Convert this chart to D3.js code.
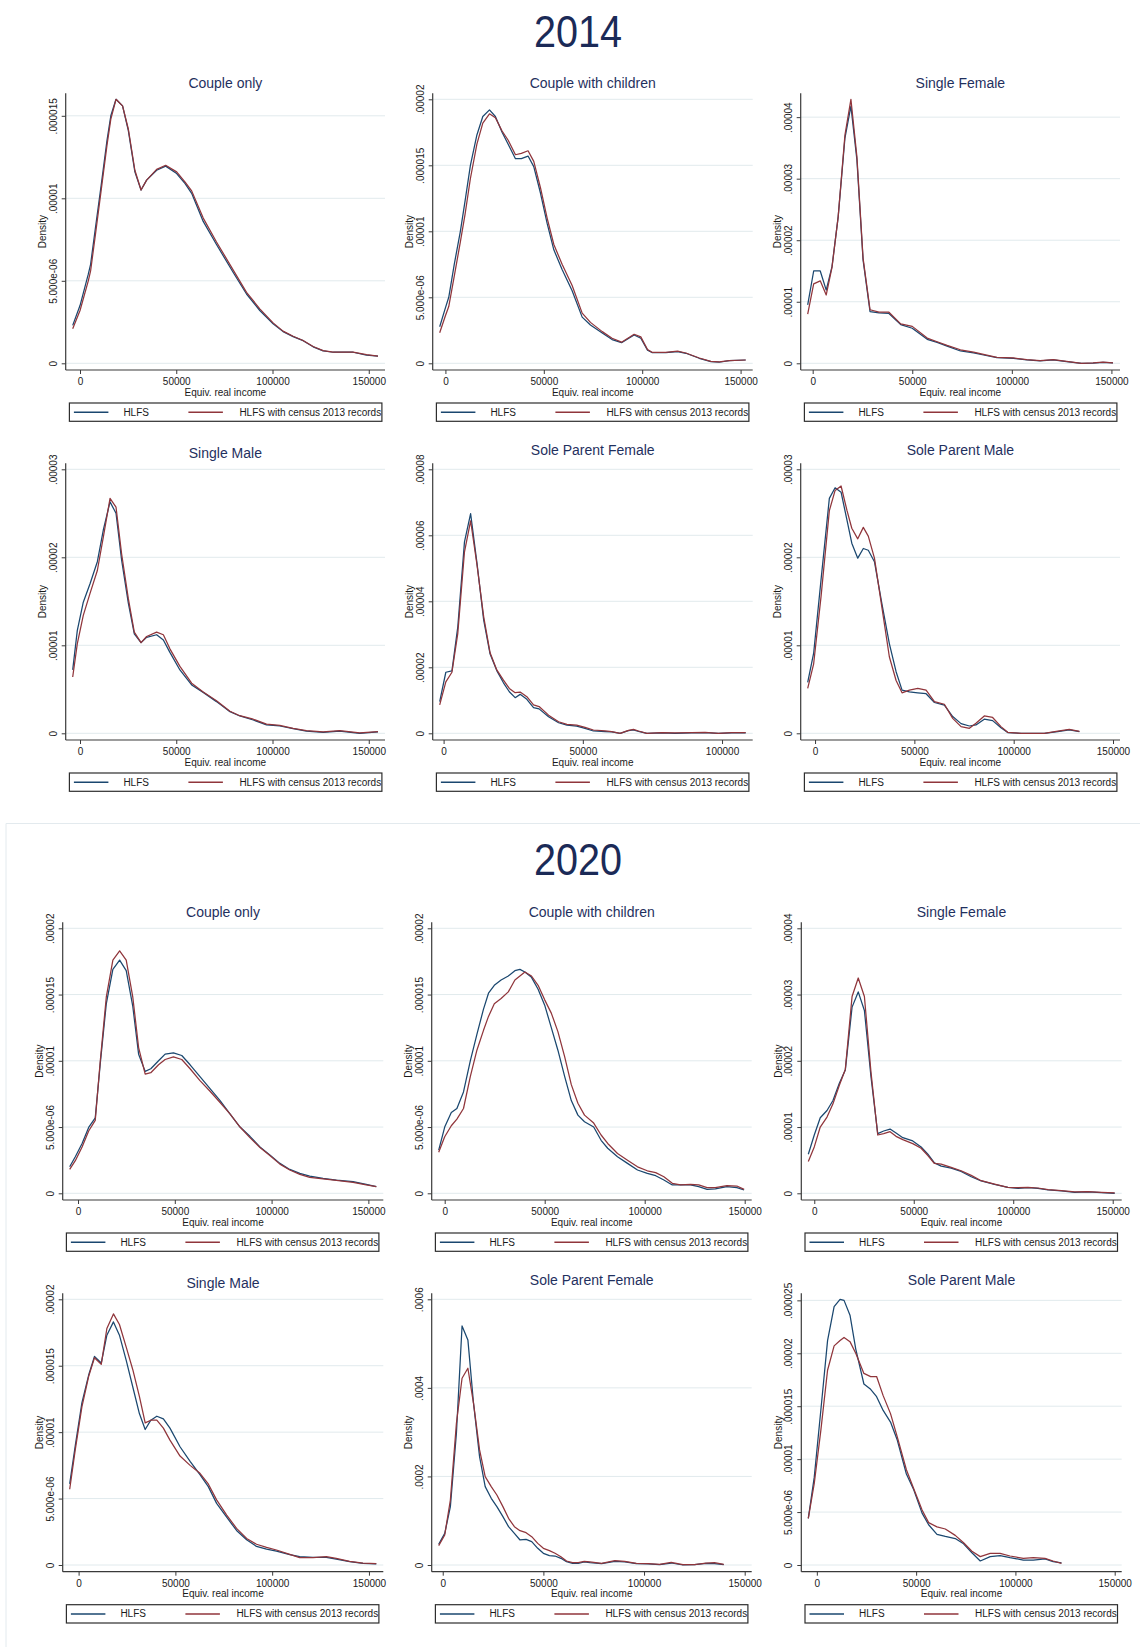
<!DOCTYPE html>
<html>
<head>
<meta charset="utf-8">
<title>Equivalised real income densities by household type, 2014 and 2020</title>
<script src="https://cdn.jsdelivr.net/npm/d3@7"></script>
<style>
  html, body { margin: 0; padding: 0; background: #ffffff; }
  svg { display: block; }
  text { font-family: "Liberation Sans", Arial, Helvetica, sans-serif; }
</style>
</head>
<body>
<svg id="chart" width="1140" height="1647"></svg>
<script>
// Kernel density estimates of equivalised real income by household type.
// Each panel has an income grid and two density series:
// HLFS alone, and HLFS with census 2013 records.

// ---------- 2014 ----------
const coupleOnly2014Income = [-3800, 0, 4300, 5500, 8000, 11000, 14000, 16000, 18700, 22100, 25100, 28500, 31700, 34600, 39800, 44500, 50200, 54500, 58000, 64000, 70900, 79600, 86500, 93400, 100300, 105500, 110700, 115900, 121100, 126300, 131500, 141900, 148800, 154800];
const coupleOnly2014Hlfs = [2.3e-6, 3.5e-6, 5.4e-6, 6.0e-6, 8.2e-6, 10.8e-6, 13.5e-6, 15.0e-6, 16.0e-6, 15.6e-6, 14.1e-6, 11.6e-6, 10.5e-6, 11.1e-6, 11.7e-6, 11.95e-6, 11.5e-6, 10.9e-6, 10.3e-6, 8.6e-6, 7.2e-6, 5.5e-6, 4.2e-6, 3.2e-6, 2.4e-6, 1.92e-6, 1.62e-6, 1.37e-6, 1.0e-6, 0.75e-6, 0.67e-6, 0.67e-6, 0.5e-6, 0.44e-6];
const coupleOnly2014Census = [2.1e-6, 3.2e-6, 5.0e-6, 5.6e-6, 7.8e-6, 10.5e-6, 13.2e-6, 14.8e-6, 16.0e-6, 15.6e-6, 14.2e-6, 11.7e-6, 10.5e-6, 11.1e-6, 11.75e-6, 12.0e-6, 11.6e-6, 11.0e-6, 10.45e-6, 8.8e-6, 7.35e-6, 5.65e-6, 4.3e-6, 3.3e-6, 2.45e-6, 1.95e-6, 1.64e-6, 1.38e-6, 1.02e-6, 0.77e-6, 0.68e-6, 0.68e-6, 0.52e-6, 0.44e-6];

const coupleKids2014Income = [-2900, 0, 1700, 4500, 7600, 10000, 12700, 16000, 19000, 22400, 25400, 28800, 31900, 35600, 38600, 42000, 44900, 48300, 51700, 55100, 59300, 64400, 69500, 73700, 79700, 84700, 89500, 95900, 99300, 102700, 105200, 112000, 118000, 122200, 129000, 134900, 139100, 144200, 152600];
const coupleKids2014Hlfs = [2.77e-6, 4.2e-6, 5.0e-6, 7.5e-6, 10.0e-6, 12.3e-6, 15.0e-6, 17.3e-6, 18.7e-6, 19.2e-6, 18.7e-6, 17.5e-6, 16.6e-6, 15.5e-6, 15.5e-6, 15.7e-6, 14.9e-6, 12.9e-6, 10.6e-6, 8.6e-6, 7.1e-6, 5.5e-6, 3.5e-6, 2.9e-6, 2.3e-6, 1.8e-6, 1.56e-6, 2.14e-6, 1.9e-6, 1.0e-6, 0.8e-6, 0.8e-6, 0.88e-6, 0.76e-6, 0.38e-6, 0.13e-6, 0.08e-6, 0.2e-6, 0.25e-6];
const coupleKids2014Census = [2.32e-6, 3.6e-6, 4.3e-6, 6.6e-6, 9.2e-6, 11.3e-6, 14.0e-6, 16.6e-6, 18.2e-6, 18.9e-6, 18.6e-6, 17.6e-6, 16.9e-6, 15.8e-6, 15.9e-6, 16.1e-6, 15.3e-6, 13.3e-6, 11.0e-6, 9.0e-6, 7.5e-6, 5.9e-6, 3.8e-6, 3.1e-6, 2.4e-6, 1.9e-6, 1.6e-6, 2.2e-6, 2.0e-6, 1.05e-6, 0.82e-6, 0.82e-6, 0.92e-6, 0.78e-6, 0.4e-6, 0.15e-6, 0.1e-6, 0.2e-6, 0.25e-6];

const singleFemale2014Income = [-2500, 500, 3800, 6800, 9700, 12800, 16200, 19200, 22200, 25300, 28800, 33300, 38300, 44200, 50000, 57500, 62500, 67500, 74200, 80800, 85800, 92500, 100800, 107500, 114200, 120800, 127500, 135000, 140800, 145800, 150800];
const singleFemale2014Hlfs = [9.5e-6, 15.0e-6, 15.0e-6, 11.9e-6, 15.7e-6, 23.8e-6, 36.6e-6, 41.8e-6, 33.1e-6, 16.8e-6, 8.4e-6, 8.2e-6, 8.1e-6, 6.3e-6, 5.7e-6, 3.9e-6, 3.4e-6, 2.8e-6, 2.0e-6, 1.7e-6, 1.35e-6, 0.92e-6, 0.81e-6, 0.54e-6, 0.38e-6, 0.54e-6, 0.27e-6, 0, 0.03e-6, 0.16e-6, 0.05e-6];
const singleFemale2014Census = [8.0e-6, 12.9e-6, 13.4e-6, 11.1e-6, 15.6e-6, 23.8e-6, 37.1e-6, 42.9e-6, 33.6e-6, 17.1e-6, 8.7e-6, 8.3e-6, 8.3e-6, 6.4e-6, 6.0e-6, 4.1e-6, 3.5e-6, 2.9e-6, 2.2e-6, 1.8e-6, 1.45e-6, 0.98e-6, 0.87e-6, 0.6e-6, 0.43e-6, 0.6e-6, 0.3e-6, 0, 0.05e-6, 0.2e-6, 0.05e-6];

const singleMale2014Income = [-3800, -1400, 1700, 5200, 9000, 12100, 15600, 18700, 21600, 25100, 28200, 31700, 34600, 39800, 43300, 46700, 51900, 58000, 64000, 70900, 77900, 83000, 90000, 96900, 103800, 110700, 117600, 126300, 134900, 145300, 154800];
const singleMale2014Hlfs = [7.2e-6, 11.7e-6, 14.9e-6, 17.0e-6, 19.5e-6, 23.1e-6, 26.3e-6, 25.0e-6, 19.7e-6, 14.8e-6, 11.3e-6, 10.3e-6, 10.9e-6, 11.2e-6, 10.6e-6, 9.2e-6, 7.2e-6, 5.5e-6, 4.65e-6, 3.6e-6, 2.46e-6, 1.97e-6, 1.51e-6, 0.95e-6, 0.83e-6, 0.53e-6, 0.26e-6, 0.11e-6, 0.26e-6, 0, 0.15e-6];
const singleMale2014Census = [6.4e-6, 10.2e-6, 13.4e-6, 15.9e-6, 18.5e-6, 22.3e-6, 26.7e-6, 25.7e-6, 20.4e-6, 15.3e-6, 11.5e-6, 10.3e-6, 11.0e-6, 11.5e-6, 11.2e-6, 9.6e-6, 7.6e-6, 5.7e-6, 4.7e-6, 3.7e-6, 2.5e-6, 2.0e-6, 1.6e-6, 1.05e-6, 0.9e-6, 0.57e-6, 0.3e-6, 0.15e-6, 0.3e-6, 0.04e-6, 0.19e-6];

const soleFemale2014Income = [-1400, 800, 3000, 5100, 7500, 9700, 12000, 14400, 16700, 19100, 21500, 23600, 25700, 27500, 29900, 32300, 34300, 37700, 41300, 44300, 47800, 50800, 53800, 58000, 60400, 63400, 66400, 68200, 70000, 73000, 78300, 83100, 89100, 93900, 98700, 103500, 108500];
const soleFemale2014Hlfs = [9.6e-6, 18.5e-6, 18.9e-6, 32.3e-6, 58.0e-6, 66.6e-6, 51.5e-6, 34.3e-6, 24.0e-6, 19.0e-6, 15.3e-6, 12.6e-6, 10.8e-6, 11.8e-6, 10.3e-6, 7.8e-6, 7.4e-6, 5.0e-6, 3.2e-6, 2.5e-6, 2.2e-6, 1.5e-6, 0.7e-6, 0.5e-6, 0.4e-6, 0, 0.8e-6, 1.0e-6, 0.6e-6, 0, 0.1e-6, 0, 0.1e-6, 0.2e-6, 0, 0.1e-6, 0.1e-6];
const soleFemale2014Census = [8.6e-6, 15.6e-6, 18.5e-6, 30.3e-6, 55.0e-6, 64.4e-6, 51.0e-6, 35.3e-6, 24.4e-6, 19.2e-6, 16.1e-6, 13.6e-6, 12.3e-6, 12.5e-6, 11.1e-6, 8.6e-6, 8.1e-6, 5.5e-6, 3.5e-6, 2.7e-6, 2.5e-6, 1.8e-6, 1.0e-6, 0.7e-6, 0.5e-6, 0, 0.9e-6, 1.2e-6, 0.7e-6, 0, 0.2e-6, 0.1e-6, 0.2e-6, 0.3e-6, 0, 0.2e-6, 0.2e-6];

const soleMale2014Income = [-3700, -700, 3000, 7200, 10100, 13100, 16100, 18500, 21500, 24300, 26800, 29900, 33600, 37400, 40800, 43800, 47500, 51700, 55900, 60100, 65100, 69300, 73500, 77700, 81000, 85200, 89400, 93600, 97000, 103700, 115400, 122200, 128000, 133100];
const soleMale2014Hlfs = [5.8e-6, 9.1e-6, 17.4e-6, 26.7e-6, 27.9e-6, 27.4e-6, 24.2e-6, 21.6e-6, 19.9e-6, 21.0e-6, 20.8e-6, 19.5e-6, 14.8e-6, 10.2e-6, 7.0e-6, 4.9e-6, 4.7e-6, 4.6e-6, 4.5e-6, 3.5e-6, 3.2e-6, 1.9e-6, 1.1e-6, 0.83e-6, 0.95e-6, 1.6e-6, 1.44e-6, 0.64e-6, 0.08e-6, 0, 0, 0.19e-6, 0.38e-6, 0.19e-6];
const soleMale2014Census = [5.1e-6, 7.9e-6, 15.5e-6, 25.3e-6, 27.6e-6, 28.1e-6, 25.3e-6, 23.3e-6, 22.1e-6, 23.4e-6, 22.4e-6, 19.9e-6, 14.4e-6, 8.7e-6, 6.0e-6, 4.6e-6, 4.9e-6, 5.1e-6, 4.9e-6, 3.6e-6, 3.3e-6, 1.7e-6, 0.76e-6, 0.57e-6, 1.14e-6, 1.97e-6, 1.8e-6, 0.76e-6, 0.11e-6, 0, 0, 0.26e-6, 0.45e-6, 0.23e-6];

// ---------- 2020 ----------
const coupleOnly2020Income = [-4300, -1400, 2100, 5500, 8900, 11500, 14600, 18000, 21500, 24900, 28300, 31300, 34700, 37600, 41600, 45000, 49300, 53600, 57900, 63000, 68200, 73400, 78500, 83700, 88800, 94000, 99100, 104300, 109400, 114600, 119700, 126600, 133500, 142100, 148900, 154100];
const coupleOnly2020Hlfs = [2.0e-6, 2.76e-6, 3.76e-6, 4.97e-6, 5.7e-6, 9.8e-6, 14.3e-6, 16.9e-6, 17.6e-6, 16.8e-6, 14.1e-6, 10.5e-6, 9.2e-6, 9.4e-6, 10.0e-6, 10.5e-6, 10.6e-6, 10.4e-6, 9.7e-6, 8.8e-6, 7.9e-6, 7.0e-6, 6.0e-6, 5.0e-6, 4.3e-6, 3.5e-6, 2.9e-6, 2.26e-6, 1.8e-6, 1.5e-6, 1.3e-6, 1.13e-6, 1.0e-6, 0.88e-6, 0.68e-6, 0.5e-6];
const coupleOnly2020Census = [1.8e-6, 2.46e-6, 3.5e-6, 4.7e-6, 5.5e-6, 10.0e-6, 14.8e-6, 17.6e-6, 18.3e-6, 17.6e-6, 14.8e-6, 11.0e-6, 9.0e-6, 9.1e-6, 9.7e-6, 10.1e-6, 10.3e-6, 10.1e-6, 9.4e-6, 8.5e-6, 7.7e-6, 6.85e-6, 6.0e-6, 5.0e-6, 4.2e-6, 3.46e-6, 2.86e-6, 2.2e-6, 1.76e-6, 1.43e-6, 1.2e-6, 1.08e-6, 0.98e-6, 0.83e-6, 0.63e-6, 0.5e-6];

const coupleKids2020Income = [-3000, 0, 3300, 6100, 9400, 12800, 16100, 19400, 21900, 24800, 28200, 31800, 35100, 37600, 40100, 43400, 46700, 50000, 53300, 56600, 60000, 63300, 66600, 69900, 74500, 78200, 81500, 86400, 91400, 96400, 101300, 105500, 109600, 113800, 117900, 122900, 127000, 131200, 135300, 141100, 146100, 149700];
const coupleKids2020Hlfs = [3.26e-6, 5.0e-6, 6.1e-6, 6.4e-6, 7.65e-6, 10.0e-6, 12.0e-6, 13.9e-6, 15.1e-6, 15.7e-6, 16.1e-6, 16.4e-6, 16.8e-6, 16.9e-6, 16.7e-6, 16.3e-6, 15.4e-6, 14.2e-6, 12.5e-6, 10.8e-6, 8.8e-6, 7.0e-6, 5.9e-6, 5.4e-6, 5.0e-6, 4.0e-6, 3.4e-6, 2.76e-6, 2.26e-6, 1.76e-6, 1.5e-6, 1.33e-6, 1.0e-6, 0.63e-6, 0.63e-6, 0.63e-6, 0.5e-6, 0.3e-6, 0.33e-6, 0.5e-6, 0.43e-6, 0.25e-6];
const coupleKids2020Census = [3.1e-6, 4.27e-6, 5.1e-6, 5.6e-6, 6.4e-6, 8.8e-6, 10.8e-6, 12.3e-6, 13.35e-6, 14.3e-6, 14.7e-6, 15.2e-6, 16.1e-6, 16.4e-6, 16.7e-6, 16.4e-6, 15.7e-6, 14.6e-6, 13.6e-6, 12.2e-6, 10.3e-6, 8.2e-6, 6.8e-6, 5.9e-6, 5.3e-6, 4.4e-6, 3.76e-6, 3.0e-6, 2.5e-6, 2.0e-6, 1.7e-6, 1.56e-6, 1.25e-6, 0.75e-6, 0.63e-6, 0.68e-6, 0.63e-6, 0.43e-6, 0.43e-6, 0.58e-6, 0.55e-6, 0.3e-6];

const singleFemale2020Income = [-3000, 0, 3000, 6400, 9400, 12600, 15600, 19000, 22100, 25200, 28500, 31900, 34900, 38100, 41100, 44500, 49500, 53700, 57100, 60400, 63800, 68800, 73800, 78900, 83900, 90600, 97300, 102400, 107400, 112400, 117500, 124200, 130900, 137600, 144300, 151000];
const singleFemale2020Hlfs = [5.9e-6, 8.8e-6, 11.4e-6, 12.5e-6, 14.0e-6, 16.6e-6, 18.6e-6, 28.1e-6, 30.4e-6, 27.6e-6, 17.6e-6, 9.0e-6, 9.4e-6, 9.7e-6, 9.1e-6, 8.4e-6, 7.9e-6, 7.0e-6, 5.9e-6, 4.6e-6, 4.1e-6, 3.8e-6, 3.3e-6, 2.5e-6, 1.86e-6, 1.35e-6, 0.9e-6, 0.75e-6, 0.85e-6, 0.75e-6, 0.5e-6, 0.35e-6, 0.15e-6, 0.2e-6, 0.1e-6, 0];
const singleFemale2020Census = [4.8e-6, 7.0e-6, 10.0e-6, 11.5e-6, 13.5e-6, 16.3e-6, 18.7e-6, 29.7e-6, 32.5e-6, 29.7e-6, 18.3e-6, 8.8e-6, 9.0e-6, 9.3e-6, 8.6e-6, 8.1e-6, 7.5e-6, 6.8e-6, 5.7e-6, 4.5e-6, 4.4e-6, 3.9e-6, 3.4e-6, 2.7e-6, 1.9e-6, 1.4e-6, 0.9e-6, 0.85e-6, 0.9e-6, 0.8e-6, 0.55e-6, 0.4e-6, 0.2e-6, 0.25e-6, 0.15e-6, 0.05e-6];

const singleMale2020Income = [-4600, -1700, 1700, 5200, 8200, 11700, 14600, 18000, 21100, 24600, 28000, 31400, 34400, 37300, 40400, 43800, 47200, 52400, 57600, 62700, 67000, 71300, 76500, 81600, 86800, 91900, 97100, 102200, 109100, 114200, 121100, 128000, 133100, 140000, 146900, 153800];
const singleMale2020Hlfs = [6.1e-6, 9.0e-6, 12.2e-6, 14.3e-6, 15.7e-6, 15.2e-6, 17.3e-6, 18.3e-6, 17.3e-6, 15.4e-6, 13.4e-6, 11.4e-6, 10.2e-6, 10.9e-6, 11.2e-6, 11.0e-6, 10.3e-6, 8.9e-6, 7.8e-6, 6.8e-6, 5.9e-6, 4.64e-6, 3.6e-6, 2.6e-6, 1.9e-6, 1.4e-6, 1.2e-6, 1.05e-6, 0.78e-6, 0.63e-6, 0.58e-6, 0.58e-6, 0.45e-6, 0.25e-6, 0.13e-6, 0.08e-6];
const singleMale2020Census = [5.7e-6, 8.7e-6, 11.9e-6, 14.2e-6, 15.6e-6, 15.1e-6, 17.8e-6, 18.9e-6, 18.1e-6, 16.4e-6, 14.7e-6, 12.7e-6, 10.7e-6, 10.9e-6, 10.9e-6, 10.3e-6, 9.4e-6, 8.2e-6, 7.5e-6, 6.9e-6, 6.1e-6, 4.9e-6, 3.76e-6, 2.76e-6, 2.0e-6, 1.56e-6, 1.33e-6, 1.13e-6, 0.8e-6, 0.55e-6, 0.55e-6, 0.63e-6, 0.5e-6, 0.28e-6, 0.15e-6, 0.1e-6];

const soleFemale2020Income = [-2000, 1000, 3800, 6800, 9600, 12500, 15300, 18300, 21100, 24100, 26900, 29900, 32700, 35600, 38400, 41400, 44200, 47200, 50000, 53000, 55800, 58700, 61500, 64500, 67300, 70300, 73100, 78900, 85500, 90400, 96200, 102000, 107700, 113500, 119300, 125100, 130800, 135000, 139600];
const soleFemale2020Hlfs = [46.7e-6, 71.5e-6, 131.8e-6, 297.4e-6, 539.9e-6, 508.3e-6, 365.2e-6, 244.7e-6, 177.0e-6, 150.6e-6, 131.8e-6, 109.2e-6, 86.6e-6, 71.5e-6, 56.5e-6, 58.0e-6, 52.7e-6, 37.7e-6, 26.4e-6, 21.1e-6, 20.3e-6, 15.1e-6, 7.5e-6, 3.8e-6, 3.8e-6, 6.8e-6, 5.3e-6, 3.0e-6, 8.3e-6, 6.8e-6, 3.0e-6, 2.3e-6, 0.8e-6, 4.5e-6, 0, 0.8e-6, 3.8e-6, 3.0e-6, 0.8e-6];
const soleFemale2020Census = [43.7e-6, 67.8e-6, 146.8e-6, 320.0e-6, 421.7e-6, 444.3e-6, 365.2e-6, 259.8e-6, 199.5e-6, 177.0e-6, 158.1e-6, 131.8e-6, 105.4e-6, 86.6e-6, 77.6e-6, 73.0e-6, 64.0e-6, 48.9e-6, 37.7e-6, 32.4e-6, 26.4e-6, 18.8e-6, 9.0e-6, 5.3e-6, 5.3e-6, 8.3e-6, 6.8e-6, 3.8e-6, 9.8e-6, 8.3e-6, 3.8e-6, 3.0e-6, 1.5e-6, 6.0e-6, 0.8e-6, 0.8e-6, 4.5e-6, 5.3e-6, 1.5e-6];

const soleMale2020Income = [-4300, -1300, 2000, 5400, 8700, 11700, 13700, 16700, 19600, 23700, 27100, 30100, 33400, 37100, 40500, 45100, 48800, 53000, 56300, 60500, 64700, 69700, 73900, 78100, 82300, 87300, 92300, 97300, 104000, 109000, 114900, 119000, 123200];
const soleMale2020Hlfs = [4.4e-6, 8.3e-6, 14.6e-6, 21.2e-6, 24.4e-6, 25.1e-6, 25.0e-6, 23.6e-6, 20.4e-6, 17.1e-6, 16.6e-6, 15.9e-6, 14.6e-6, 13.5e-6, 11.8e-6, 8.6e-6, 7.1e-6, 4.9e-6, 3.8e-6, 2.9e-6, 2.7e-6, 2.5e-6, 2.0e-6, 1.16e-6, 0.38e-6, 0.79e-6, 0.88e-6, 0.69e-6, 0.47e-6, 0.47e-6, 0.57e-6, 0.31e-6, 0.19e-6];
const soleMale2020Census = [4.4e-6, 7.7e-6, 12.7e-6, 18.4e-6, 20.7e-6, 21.2e-6, 21.5e-6, 21.1e-6, 20.0e-6, 18.1e-6, 17.8e-6, 17.8e-6, 16.0e-6, 14.3e-6, 12.1e-6, 9.0e-6, 7.2e-6, 5.2e-6, 4.0e-6, 3.6e-6, 3.4e-6, 2.8e-6, 2.1e-6, 1.3e-6, 0.79e-6, 1.1e-6, 1.1e-6, 0.85e-6, 0.63e-6, 0.69e-6, 0.63e-6, 0.38e-6, 0.16e-6];

// ---------- labels and ticks ----------
const yearTitles = ["2014", "2020"];
const householdTypes = ["Couple only", "Couple with children", "Single Female", "Single Male", "Sole Parent Female", "Sole Parent Male"];
const seriesNames = ["HLFS", "HLFS with census 2013 records"];
const xAxisTitle = "Equiv. real income";
const yAxisTitle = "Density";

const incomeTicks = [0, 50000, 100000, 150000];
const incomeTicksShort = [0, 50000, 100000];

const densityTicksA = [0, 5e-6, 1e-5, 1.5e-5];
const densityLabelsA = ["0", "5.000e-06", ".00001", ".000015"];
const densityTicksB = [0, 5e-6, 1e-5, 1.5e-5, 2e-5];
const densityLabelsB = ["0", "5.000e-06", ".00001", ".000015", ".00002"];
const densityTicksC = [0, 1e-5, 2e-5, 3e-5, 4e-5];
const densityLabelsC = ["0", ".00001", ".00002", ".00003", ".00004"];
const densityTicksD = [0, 1e-5, 2e-5, 3e-5];
const densityLabelsD = ["0", ".00001", ".00002", ".00003"];
const densityTicksE = [0, 2e-5, 4e-5, 6e-5, 8e-5];
const densityLabelsE = ["0", ".00002", ".00004", ".00006", ".00008"];
const densityTicksF = [0, 2e-4, 4e-4, 6e-4];
const densityLabelsF = ["0", ".0002", ".0004", ".0006"];
const densityTicksG = [0, 5e-6, 1e-5, 1.5e-5, 2e-5, 2.5e-5];
const densityLabelsG = ["0", "5.000e-06", ".00001", ".000015", ".00002", ".000025"];

// ---------- page layout (plot frames per year block) ----------
const blocks = {
  "2014": { titleY: 47, top: [93.3, 463.3], bottom: [370, 740], left: [65.7, 432.7, 800.7], right: [385, 752.7, 1120] },
  "2020": { titleY: 875, top: [922.3, 1293.3], bottom: [1200, 1571.7], left: [62.7, 431.7, 801.3], right: [383.3, 751.7, 1121.7] }
};

const panels = [
  { year: "2014", row: 0, col: 0, type: 0, income: coupleOnly2014Income, hlfs: coupleOnly2014Hlfs, census: coupleOnly2014Census, yTicks: densityTicksA, yLabels: densityLabelsA, xTicks: incomeTicks },
  { year: "2014", row: 0, col: 1, type: 1, income: coupleKids2014Income, hlfs: coupleKids2014Hlfs, census: coupleKids2014Census, yTicks: densityTicksB, yLabels: densityLabelsB, xTicks: incomeTicks },
  { year: "2014", row: 0, col: 2, type: 2, income: singleFemale2014Income, hlfs: singleFemale2014Hlfs, census: singleFemale2014Census, yTicks: densityTicksC, yLabels: densityLabelsC, xTicks: incomeTicks },
  { year: "2014", row: 1, col: 0, type: 3, income: singleMale2014Income, hlfs: singleMale2014Hlfs, census: singleMale2014Census, yTicks: densityTicksD, yLabels: densityLabelsD, xTicks: incomeTicks },
  { year: "2014", row: 1, col: 1, type: 4, income: soleFemale2014Income, hlfs: soleFemale2014Hlfs, census: soleFemale2014Census, yTicks: densityTicksE, yLabels: densityLabelsE, xTicks: incomeTicksShort },
  { year: "2014", row: 1, col: 2, type: 5, income: soleMale2014Income, hlfs: soleMale2014Hlfs, census: soleMale2014Census, yTicks: densityTicksD, yLabels: densityLabelsD, xTicks: incomeTicks },
  { year: "2020", row: 0, col: 0, type: 0, income: coupleOnly2020Income, hlfs: coupleOnly2020Hlfs, census: coupleOnly2020Census, yTicks: densityTicksB, yLabels: densityLabelsB, xTicks: incomeTicks },
  { year: "2020", row: 0, col: 1, type: 1, income: coupleKids2020Income, hlfs: coupleKids2020Hlfs, census: coupleKids2020Census, yTicks: densityTicksB, yLabels: densityLabelsB, xTicks: incomeTicks },
  { year: "2020", row: 0, col: 2, type: 2, income: singleFemale2020Income, hlfs: singleFemale2020Hlfs, census: singleFemale2020Census, yTicks: densityTicksC, yLabels: densityLabelsC, xTicks: incomeTicks },
  { year: "2020", row: 1, col: 0, type: 3, income: singleMale2020Income, hlfs: singleMale2020Hlfs, census: singleMale2020Census, yTicks: densityTicksB, yLabels: densityLabelsB, xTicks: incomeTicks },
  { year: "2020", row: 1, col: 1, type: 4, income: soleFemale2020Income, hlfs: soleFemale2020Hlfs, census: soleFemale2020Census, yTicks: densityTicksF, yLabels: densityLabelsF, xTicks: incomeTicks },
  { year: "2020", row: 1, col: 2, type: 5, income: soleMale2020Income, hlfs: soleMale2020Hlfs, census: soleMale2020Census, yTicks: densityTicksG, yLabels: densityLabelsG, xTicks: incomeTicks }
];

// ---------- styles ----------
const hlfsColor = "#1a476f";
const censusColor = "#90353b";
const axisColor = "#3a3a3a";
const gridColor = "#e1eaed";
const textColor = "#1a1a1a";
const titleColor = "#1f305e";
const smallFont = 10;

const svg = d3.select("#chart");
svg.append("rect").attr("width", 1140).attr("height", 1647).attr("fill", "#ffffff");

// thin frame around the 2020 block
svg.append("path")
  .attr("d", "M6,1647 V823.5 H1140")
  .attr("fill", "none").attr("stroke", "#e3eaee").attr("stroke-width", 1);

// year headings
yearTitles.forEach(yr => {
  svg.append("text")
    .attr("x", 578).attr("y", blocks[yr].titleY)
    .attr("text-anchor", "middle")
    .attr("font-size", 44)
    .attr("textLength", 88).attr("lengthAdjust", "spacingAndGlyphs")
    .attr("fill", "#1b2a57")
    .text(yr);
});

panels.forEach(p => {
  const b = blocks[p.year];
  const top = b.top[p.row], bottom = b.bottom[p.row];
  const left = b.left[p.col], right = b.right[p.col];
  const cx = (left + right) / 2;

  const xMin = Math.min(p.income[0], p.xTicks[0]);
  const xMax = Math.max(p.income[p.income.length - 1], p.xTicks[p.xTicks.length - 1]);
  const x = d3.scaleLinear().domain([xMin, xMax]).range([left + 7, right - 7]);

  const yMax = Math.max(d3.max(p.yTicks), d3.max(p.hlfs), d3.max(p.census));
  const y = d3.scaleLinear().domain([0, yMax]).range([bottom - 6.7, top + 6]);

  const g = svg.append("g");

  // horizontal gridlines at the density ticks
  g.append("g").selectAll("line").data(p.yTicks).join("line")
    .attr("x1", left).attr("x2", right)
    .attr("y1", d => y(d)).attr("y2", d => y(d))
    .attr("stroke", gridColor).attr("stroke-width", 1);

  // y axis with vertical tick labels
  const gy = g.append("g").attr("transform", `translate(${left},0)`)
    .call(d3.axisLeft(y).tickValues(p.yTicks).tickFormat((d, i) => p.yLabels[i]).tickSize(4).tickSizeOuter(0));
  gy.attr("font-family", null).attr("font-size", null);
  gy.select(".domain").remove();
  gy.selectAll(".tick line").attr("stroke", axisColor).attr("stroke-width", 1);
  gy.selectAll(".tick text")
    .attr("transform", "rotate(-90)")
    .attr("x", 0).attr("y", -9).attr("dy", null)
    .attr("text-anchor", "middle")
    .attr("font-size", smallFont).attr("fill", textColor);

  // x axis
  const gx = g.append("g").attr("transform", `translate(0,${bottom})`)
    .call(d3.axisBottom(x).tickValues(p.xTicks).tickFormat(d3.format("d")).tickSize(4).tickSizeOuter(0));
  gx.attr("font-family", null).attr("font-size", null);
  gx.select(".domain").remove();
  gx.selectAll(".tick line").attr("stroke", axisColor).attr("stroke-width", 1);
  gx.selectAll(".tick text").attr("y", 15).attr("dy", null)
    .attr("font-size", smallFont).attr("fill", textColor);

  // axis lines spanning the full plot frame
  g.append("line").attr("x1", left).attr("x2", left).attr("y1", top).attr("y2", bottom)
    .attr("stroke", axisColor).attr("stroke-width", 1.2);
  g.append("line").attr("x1", left).attr("x2", right).attr("y1", bottom).attr("y2", bottom)
    .attr("stroke", axisColor).attr("stroke-width", 1.2);

  // density curves
  const line = d3.line().x((d, i) => x(p.income[i])).y(d => y(d));
  [[p.hlfs, hlfsColor], [p.census, censusColor]].forEach(([vals, col]) => {
    g.append("path").datum(vals)
      .attr("d", line)
      .attr("fill", "none").attr("stroke", col)
      .attr("stroke-width", 1.25).attr("stroke-linejoin", "round");
  });

  // panel title
  const isSoleParent = p.type >= 4;
  g.append("text")
    .attr("x", cx).attr("y", top - (isSoleParent ? 8 : 5.5))
    .attr("text-anchor", "middle").attr("font-size", 14).attr("fill", titleColor)
    .text(householdTypes[p.type]);

  // axis titles
  g.append("text")
    .attr("x", cx).attr("y", bottom + 25.5)
    .attr("text-anchor", "middle").attr("font-size", smallFont).attr("fill", textColor)
    .text(xAxisTitle);
  g.append("text")
    .attr("transform", `translate(${left - 19.5},${(top + bottom) / 2}) rotate(-90)`)
    .attr("text-anchor", "middle").attr("font-size", smallFont).attr("fill", textColor)
    .text(yAxisTitle);

  // legend
  const lg = g.append("g").attr("transform", `translate(${left + 3.7},${bottom + 33})`);
  lg.append("rect").attr("width", 312.5).attr("height", 18.3)
    .attr("fill", "#ffffff").attr("stroke", "#2e2e2e").attr("stroke-width", 1.2);
  const entries = [
    { name: seriesNames[0], color: hlfsColor, x0: 4.5, tx: 54 },
    { name: seriesNames[1], color: censusColor, x0: 119, tx: 170 }
  ];
  entries.forEach(e => {
    lg.append("line").attr("x1", e.x0).attr("x2", e.x0 + 34.5).attr("y1", 9.2).attr("y2", 9.2)
      .attr("stroke", e.color).attr("stroke-width", 1.5);
    lg.append("text").attr("x", e.tx).attr("y", 12.6)
      .attr("font-size", smallFont).attr("fill", textColor)
      .text(e.name);
  });
});
</script>
</body>
</html>
